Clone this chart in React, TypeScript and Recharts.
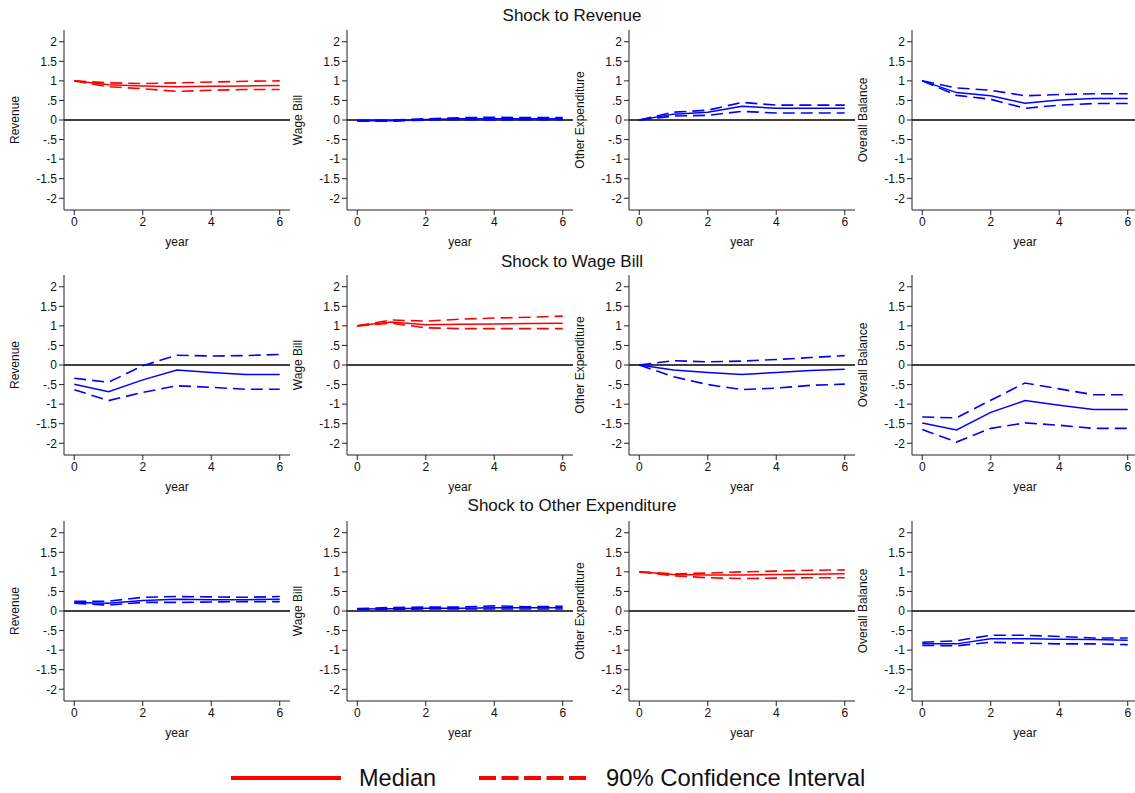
import React from 'react';
import { LineChart, Line, XAxis, YAxis, ReferenceLine } from 'recharts';

// horizon (years after the shock)
const years = [0, 1, 2, 3, 4, 5, 6];
const yTicks = [-2, -1.5, -1, -0.5, 0, 0.5, 1, 1.5, 2];
const xTicks = [0, 2, 4, 6];
const shockTitles = ['Shock to Revenue', 'Shock to Wage Bill', 'Shock to Other Expenditure'];
const variables = ['Revenue', 'Wage Bill', 'Other Expenditure', 'Overall Balance'];

// Shock to Revenue
const rRevMed = [1.0, 0.9, 0.87, 0.85, 0.86, 0.87, 0.88];
const rRevHi = [1.0, 0.95, 0.93, 0.95, 0.97, 0.99, 1.0];
const rRevLo = [1.0, 0.85, 0.8, 0.73, 0.76, 0.78, 0.78];
const rWageMed = [-0.02, -0.02, 0.01, 0.03, 0.03, 0.03, 0.03];
const rWageHi = [-0.01, 0.0, 0.03, 0.06, 0.07, 0.06, 0.06];
const rWageLo = [-0.03, -0.03, 0.0, 0.01, 0.0, 0.01, 0.01];
const rOthMed = [0.0, 0.15, 0.2, 0.35, 0.3, 0.3, 0.3];
const rOthHi = [0.0, 0.2, 0.25, 0.45, 0.38, 0.38, 0.38];
const rOthLo = [0.0, 0.1, 0.12, 0.22, 0.18, 0.18, 0.18];
const rBalMed = [1.0, 0.7, 0.62, 0.43, 0.51, 0.55, 0.55];
const rBalHi = [1.0, 0.82, 0.76, 0.62, 0.65, 0.67, 0.67];
const rBalLo = [1.0, 0.63, 0.53, 0.3, 0.38, 0.42, 0.42];

// Shock to Wage Bill
const wRevMed = [-0.49, -0.68, -0.38, -0.13, -0.19, -0.24, -0.24];
const wRevHi = [-0.34, -0.44, -0.02, 0.25, 0.23, 0.24, 0.27];
const wRevLo = [-0.63, -0.91, -0.7, -0.53, -0.57, -0.62, -0.62];
const wWageMed = [1.0, 1.1, 1.03, 1.04, 1.05, 1.06, 1.07];
const wWageHi = [1.0, 1.15, 1.12, 1.17, 1.2, 1.22, 1.25];
const wWageLo = [1.0, 1.07, 0.95, 0.93, 0.93, 0.93, 0.93];
const wOthMed = [0.0, -0.13, -0.19, -0.24, -0.19, -0.14, -0.11];
const wOthHi = [0.0, 0.11, 0.08, 0.1, 0.14, 0.19, 0.24];
const wOthLo = [0.0, -0.3, -0.5, -0.63, -0.59, -0.52, -0.49];
const wBalMed = [-1.48, -1.66, -1.21, -0.91, -1.03, -1.14, -1.14];
const wBalHi = [-1.33, -1.35, -0.9, -0.46, -0.61, -0.76, -0.76];
const wBalLo = [-1.65, -1.97, -1.62, -1.48, -1.54, -1.62, -1.62];

// Shock to Other Expenditure
const oRevMed = [0.22, 0.2, 0.27, 0.3, 0.29, 0.29, 0.3];
const oRevHi = [0.25, 0.25, 0.35, 0.37, 0.36, 0.35, 0.37];
const oRevLo = [0.2, 0.15, 0.22, 0.22, 0.23, 0.24, 0.24];
const oWageMed = [0.05, 0.06, 0.07, 0.07, 0.08, 0.08, 0.08];
const oWageHi = [0.06, 0.09, 0.1, 0.1, 0.13, 0.11, 0.12];
const oWageLo = [0.04, 0.04, 0.05, 0.05, 0.05, 0.05, 0.05];
const oOthMed = [1.0, 0.93, 0.92, 0.92, 0.93, 0.94, 0.95];
const oOthHi = [1.0, 0.95, 0.97, 1.0, 1.02, 1.04, 1.05];
const oOthLo = [1.0, 0.9, 0.85, 0.83, 0.84, 0.85, 0.85];
const oBalMed = [-0.84, -0.84, -0.71, -0.71, -0.72, -0.73, -0.75];
const oBalHi = [-0.8, -0.76, -0.62, -0.62, -0.65, -0.69, -0.69];
const oBalLo = [-0.88, -0.89, -0.8, -0.82, -0.84, -0.84, -0.86];

const grid = [
  [[rRevMed, rRevLo, rRevHi], [rWageMed, rWageLo, rWageHi], [rOthMed, rOthLo, rOthHi], [rBalMed, rBalLo, rBalHi]],
  [[wRevMed, wRevLo, wRevHi], [wWageMed, wWageLo, wWageHi], [wOthMed, wOthLo, wOthHi], [wBalMed, wBalLo, wBalHi]],
  [[oRevMed, oRevLo, oRevHi], [oWageMed, oWageLo, oWageHi], [oOthMed, oOthLo, oOthHi], [oBalMed, oBalLo, oBalHi]],
];

const colX = [64, 347, 629, 912];
const rowY = [30, 275, 521];
const titleY = [16, 262, 506];

const fmt = (v: number) => (v === 0 ? '0' : String(v).replace('0.', '.'));
const tickStyle = { fill: '#111', fontSize: 12 };

const Panel = ({ row, col }: { row: number; col: number }) => {
  const [med, lo, hi] = grid[row][col];
  const data = years.map((y, i) => ({ year: y, med: med[i], lo: lo[i], hi: hi[i] }));
  const color = row === col ? '#ff0000' : '#0000ff';
  return <div style={{ position: 'absolute', left: colX[col] - 64, top: rowY[row] - 30 }}>
      <LineChart width={300} height={250} data={data} margin={{ top: 30, right: 10, left: 0, bottom: 4 }}>
        <XAxis dataKey="year" type="number" domain={[-0.3, 6.3]} ticks={xTicks} interval={0}
          stroke="#222" tickSize={5} tick={tickStyle} height={36} allowDataOverflow
          label={{ value: 'year', position: 'insideBottom', offset: 0, fill: '#111', fontSize: 12 }} />
        <YAxis type="number" domain={[-2.3, 2.3]} ticks={yTicks} interval={0} width={64}
          stroke="#222" tickSize={5} tick={tickStyle} tickFormatter={fmt} allowDataOverflow />
        <ReferenceLine y={0} stroke="#000" strokeWidth={1.4} />
        <Line type="linear" dataKey="hi" stroke={color} strokeWidth={1.6} strokeDasharray="12 6" dot={false} isAnimationActive={false} />
        <Line type="linear" dataKey="lo" stroke={color} strokeWidth={1.6} strokeDasharray="12 6" dot={false} isAnimationActive={false} />
        <Line type="linear" dataKey="med" stroke={color} strokeWidth={1.5} dot={false} isAnimationActive={false} />
      </LineChart>
      <div style={{
        position: 'absolute', left: 15, top: 120, transform: 'translate(-50%, -50%) rotate(-90deg)',
        whiteSpace: 'nowrap', fontSize: 12, color: '#111'
      }}>{variables[col]}</div>
    </div>;
};

export default function App() {
  return <div style={{
    position: 'absolute', left: 0, top: 0, width: 1135, height: 793, overflow: 'hidden',
    background: '#fff', fontFamily: '"Liberation Sans", Arial, sans-serif'
  }}>
      {shockTitles.map((t, r) => <div key={t} style={{
        position: 'absolute', left: 572, top: titleY[r], transform: 'translate(-50%, -50%)',
        fontSize: 17, color: '#111', whiteSpace: 'nowrap'
      }}>{t}</div>)}
      {rowY.map((_, r) => colX.map((__, c) => <Panel key={`${r}-${c}`} row={r} col={c} />))}
      <svg style={{ position: 'absolute', left: 0, top: 760 }} width={1135} height={33}>
        <line x1={231} x2={341} y1={18} y2={18} stroke="#ff0000" strokeWidth={4} />
        <text x={359} y={26} fontSize={23.5} fill="#111">Median</text>
        <line x1={479} x2={586} y1={18} y2={18} stroke="#ff0000" strokeWidth={4} strokeDasharray="17 5.5" />
        <text x={606} y={26} fontSize={23.8} fill="#111">90% Confidence Interval</text>
      </svg>
    </div>;
}
